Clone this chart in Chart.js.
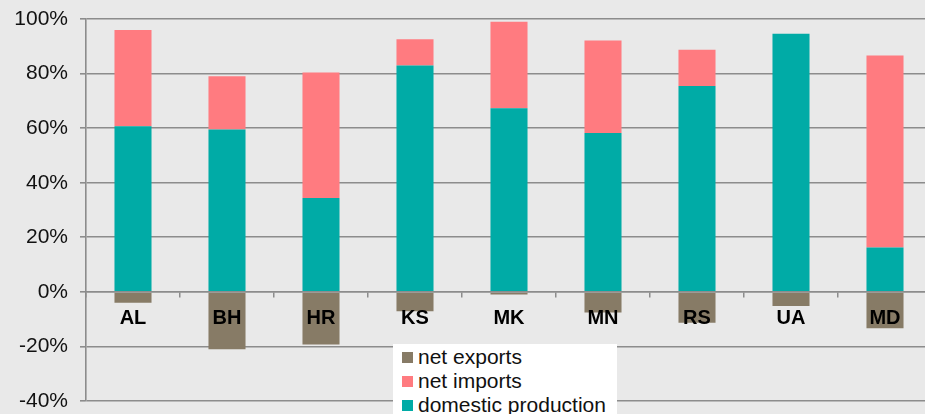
<!DOCTYPE html>
<html>
<head>
<meta charset="utf-8">
<script src="https://cdn.jsdelivr.net/npm/chart.js@4/dist/chart.umd.min.js"></script>
<style>
  html, body { margin: 0; padding: 0; background: #e9e9e9; overflow: hidden; width: 925px; height: 414px; }
  #wrap { position: relative; width: 940px; height: 414px; overflow: hidden; }
  #legend { position: absolute; left: 393px; top: 344px; width: 224px; height: 70px; background: #ffffff; overflow: hidden;
            font-family: "Liberation Sans", Arial, sans-serif; font-size: 21px; color: #111; }
  .row { display: flex; align-items: center; height: 24px; padding-left: 9px; }
  .sw { width: 11px; height: 11px; margin-right: 5px; flex: none; }
  .row:first-child { margin-top: 1px; }
</style>
</head>
<body>
<div id="wrap">
  <canvas id="c" width="940" height="414"></canvas>
  <div id="legend"></div>
</div>
<script>
const categories = ["AL", "BH", "HR", "KS", "MK", "MN", "RS", "UA", "MD"];
const domesticProduction = [60.7, 59.5, 34.4, 83.0, 67.3, 58.2, 75.4, 94.6, 16.3];
const netImports = [35.3, 19.5, 46.0, 9.6, 31.7, 33.9, 13.3, 0, 70.3];
const netExports = [-4.0, -21.0, -19.3, -7.1, -1.0, -7.6, -11.3, -5.2, -13.3];
const yTicks = [-40, -20, 0, 20, 40, 60, 80, 100];

const colors = { domestic: "#00aba6", imports: "#ff7b80", exports: "#877b66" };

const datasets = [
  { label: "domestic production", data: domesticProduction, backgroundColor: colors.domestic },
  { label: "net imports", data: netImports, backgroundColor: colors.imports },
  { label: "net exports", data: netExports, backgroundColor: colors.exports }
];

const chart = new Chart(document.getElementById("c"), {
  type: "bar",
  data: { labels: categories, datasets: datasets.map(d => Object.assign({
    stack: "s", categoryPercentage: 1, barPercentage: 0.394, borderWidth: 0
  }, d)) },
  options: {
    responsive: false,
    animation: false,
    devicePixelRatio: 1,
    layout: { padding: { top: 19, bottom: 13, right: 8, left: 0 } },
    plugins: { legend: { display: false }, tooltip: { enabled: false } },
    scales: {
      x: {
        stacked: true,
        position: { y: 0 },
        afterFit: s => { s.height = 0; s.paddingTop = 0; s.paddingBottom = 0; },
        grid: { display: true, drawOnChartArea: false, drawTicks: true, tickLength: 5, offset: true, color: "#8c8c8c", lineWidth: 1.5, z: 1 },
        border: { display: true, color: "#8c8c8c", width: 1.6, z: 1 },
        ticks: { z: 1, color: "#000", font: { family: "Liberation Sans, Arial, sans-serif", size: 20, weight: "bold" }, padding: 10 }
      },
      y: {
        stacked: true,
        min: -40, max: 100,
        afterBuildTicks: s => { s.ticks = yTicks.map(v => ({ value: v })); },
        afterFit: s => { s.width = 86; s.paddingTop = 0; s.paddingBottom = 0; },
        grid: { color: "#8c8c8c", lineWidth: 1.6, tickLength: 6 },
        border: { display: true, color: "#8c8c8c", width: 1.6 },
        ticks: { color: "#111", font: { family: "Liberation Sans, Arial, sans-serif", size: 21 }, padding: 12,
                 callback: v => v + "%" }
      }
    }
  }
});

const legend = document.getElementById("legend");
[...datasets].reverse().forEach(d => {
  const row = document.createElement("div");
  row.className = "row";
  const sw = document.createElement("span");
  sw.className = "sw";
  sw.style.background = d.backgroundColor;
  const t = document.createElement("span");
  t.textContent = d.label;
  row.appendChild(sw); row.appendChild(t);
  legend.appendChild(row);
});
</script>
</body>
</html>
